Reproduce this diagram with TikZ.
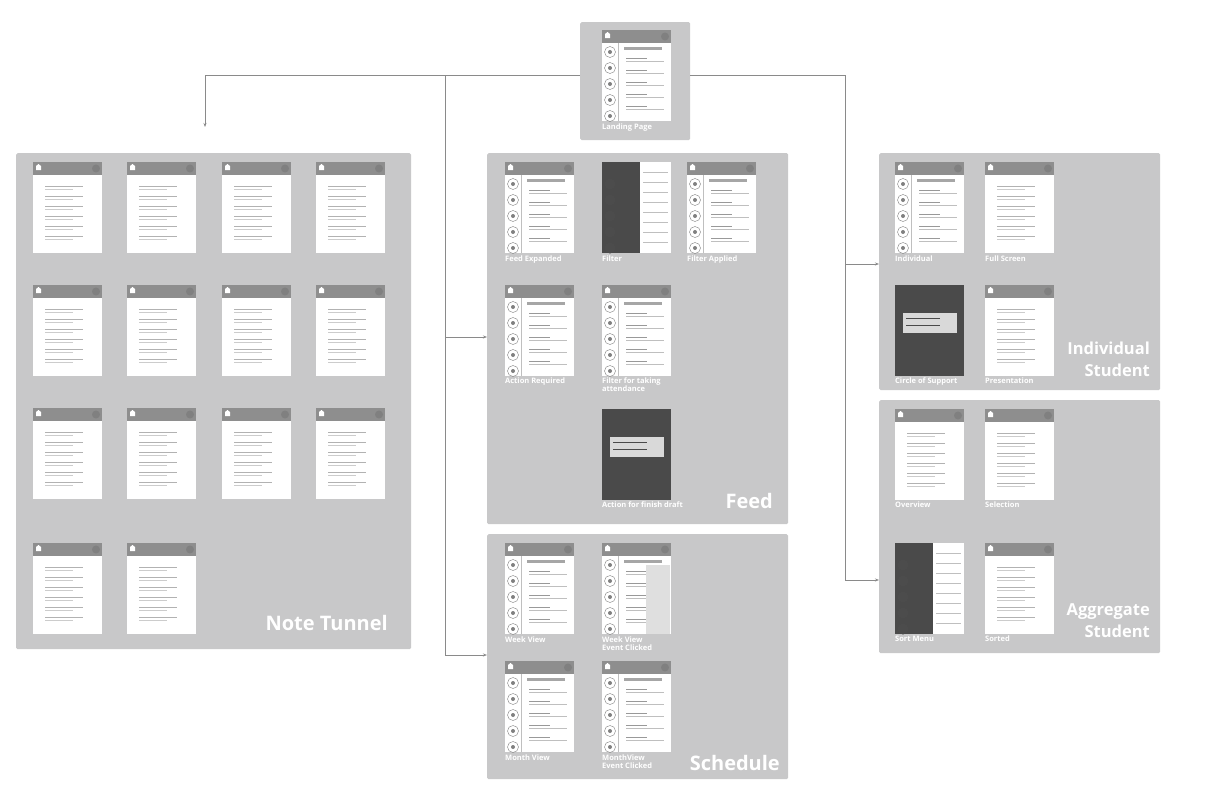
\documentclass[tikz,border=0pt]{standalone}
\usepackage{fontspec}
\setmainfont{Open Sans}
\usetikzlibrary{arrows.meta}
\definecolor{panel}{HTML}{C8C8C9}
\definecolor{bar}{HTML}{8E8E8E}
\definecolor{ln}{HTML}{8A8A8A}
\definecolor{dk}{HTML}{4A4A4A}
\tikzset{
 panelbox/.style={fill=panel,draw=none,rounded corners=1.5pt},
 lab/.style={text=white,font=\fontsize{7.5}{8}\selectfont\bfseries,anchor=north west,inner sep=0pt,align=left},
 big/.style={text=white,font=\fontsize{20}{22}\selectfont\bfseries,anchor=south east,inner sep=0pt,align=right},
 bigs/.style={big,font=\fontsize{16.5}{22}\selectfont\bfseries},
 conn/.style={draw=ln,line width=0.9pt},
 arr/.style={conn,-{Stealth[length=4pt,width=3pt]}},
 pics/screen/.style={code={
   \fill[white] (0,0) rectangle (69,91);
   \fill[bar] (0,0) rectangle (69,13);
   \fill[white] (3,4) -- (5.5,2) -- (8,4) -- (8,8) -- (3,8) -- cycle;
   \fill[gray] (63,6.5) circle (4);
   \foreach \yy in {24,34,44,54,64,74}{\draw[gray!60,line width=0.6pt] (12,\yy) -- (50,\yy); \draw[gray!40,line width=0.5pt] (12,\yy+3)--(40,\yy+3);}
 }},
 pics/side/.style={code={
   \fill[white] (0,0) rectangle (69,91);
   \fill[bar] (0,0) rectangle (69,13);
   \fill[white] (3,4) -- (5.5,2) -- (8,4) -- (8,8) -- (3,8) -- cycle;
   \fill[gray] (63,6.5) circle (4);
   \draw[gray!50] (16,13) -- (16,91);
   \foreach \yy in {22,38,54,70,86}{\draw[gray] (8,\yy) circle (5.5); \fill[gray] (8,\yy) circle (2);}
   \fill[gray!70] (22,17) rectangle (60,20);
   \foreach \yy in {28,40,52,64,76}{\draw[gray!80,line width=0.7pt] (24,\yy) -- (45,\yy); \draw[gray!50] (24,\yy+3)--(62,\yy+3);}
 }},
 pics/darkside/.style={code={
   \fill[dk] (0,0) rectangle (69,91);
   \fill[white] (38,0) rectangle (69,91);
   \foreach \yy in {10,20,30,40,50,60,70,80}{\draw[gray!50] (41,\yy) -- (66,\yy);}
   \foreach \yy in {22,38,54,70,86}{\fill[gray!60!black] (8,\yy) circle (5.5);}
 }},
 pics/dark/.style={code={
   \fill[dk] (0,0) rectangle (69,91);
   \fill[gray!30] (8,28) rectangle (62,48);
   \foreach \yy in {33,40}{\draw[dk] (11,\yy) -- (45,\yy);}
 }},
}
\begin{document}
\begin{tikzpicture}[x=1pt,y=-1pt]
\useasboundingbox (0,0) rectangle (1224,793);
\fill[white] (0,0) rectangle (1224,793);
% panels
\node[panelbox,minimum width=110pt,minimum height=118pt,anchor=north west] (land) at (580,22) {};
\node[panelbox,minimum width=395pt,minimum height=496pt,anchor=north west] (note) at (16,153) {};
\node[panelbox,minimum width=301pt,minimum height=371pt,anchor=north west] (feed) at (487,153) {};
\node[panelbox,minimum width=301pt,minimum height=245pt,anchor=north west] (sched) at (487,534) {};
\node[panelbox,minimum width=281pt,minimum height=237pt,anchor=north west] (indiv) at (879,153) {};
\node[panelbox,minimum width=281pt,minimum height=253pt,anchor=north west] (aggr) at (879,400) {};
% landing
\pic at (602,30) {side};
\node[lab] at (602,124) {Landing Page};
% note tunnel
\foreach \x in {33,127,222,316}{\foreach \y in {162,285,408}{\pic at (\x,\y) {screen};}}
\pic at (33,543) {screen};\pic at (127,543) {screen};
\node[big] at (388,631) {Note Tunnel};
% feed
\pic at (505,162) {side};\pic at (602,162) {darkside};\pic at (687,162) {side};
\pic at (505,285) {side};\pic at (602,285) {side};\pic at (602,409) {dark};
\node[lab] at (505,256) {Feed Expanded};
\node[lab] at (602,256) {Filter};
\node[lab] at (687,256) {Filter Applied};
\node[lab] at (505,378) {Action Required};
\node[lab] at (602,378) {Filter for taking\\attendance};
\node[lab] at (602,502) {Action for finish draft};
\node[big] at (773,509) {Feed};
% schedule
\pic at (505,543) {side};\pic at (602,543) {side};\pic at (505,661) {side};\pic at (602,661) {side};
\fill[gray!25] (646,565) rectangle (670,634);
\node[lab] at (505,637) {Week View};
\node[lab] at (602,637) {Week View\\Event Clicked};
\node[lab] at (505,755) {Month View};
\node[lab] at (602,755) {MonthView\\Event Clicked};
\node[big] at (780,771) {Schedule};
% individual
\pic at (895,162) {side};\pic at (985,162) {screen};\pic at (895,285) {dark};\pic at (985,285) {screen};
\node[lab] at (895,256) {Individual};
\node[lab] at (985,256) {Full Screen};
\node[lab] at (895,378) {Circle of Support};
\node[lab] at (985,378) {Presentation};
\node[bigs] at (1150,377) {Individual\\Student};
% aggregate
\pic at (895,409) {screen};\pic at (985,409) {screen};\pic at (895,543) {darkside};\pic at (985,543) {screen};
\node[lab] at (895,502) {Overview};
\node[lab] at (985,502) {Selection};
\node[lab] at (895,636) {Sort Menu};
\node[lab] at (985,636) {Sorted};
\node[bigs] at (1150,638) {Aggregate\\Student};
% connectors
\coordinate (L) at (land.west |- 0,75);
\coordinate (R) at (land.east |- 0,75);
\draw[arr] (L) -| (205,127);
\draw[conn] (445,75) -- (445,337);
\draw[arr] (445,337) -- (feed.west |- 0,337);
\draw[arr] (445,337) |- (sched.west |- 0,655);
\draw[conn] (R) -| (845,264);
\draw[arr] (845,264) -- (indiv.west |- 0,264);
\draw[arr] (845,264) |- (aggr.west |- 0,580);
\end{tikzpicture}
\end{document}
